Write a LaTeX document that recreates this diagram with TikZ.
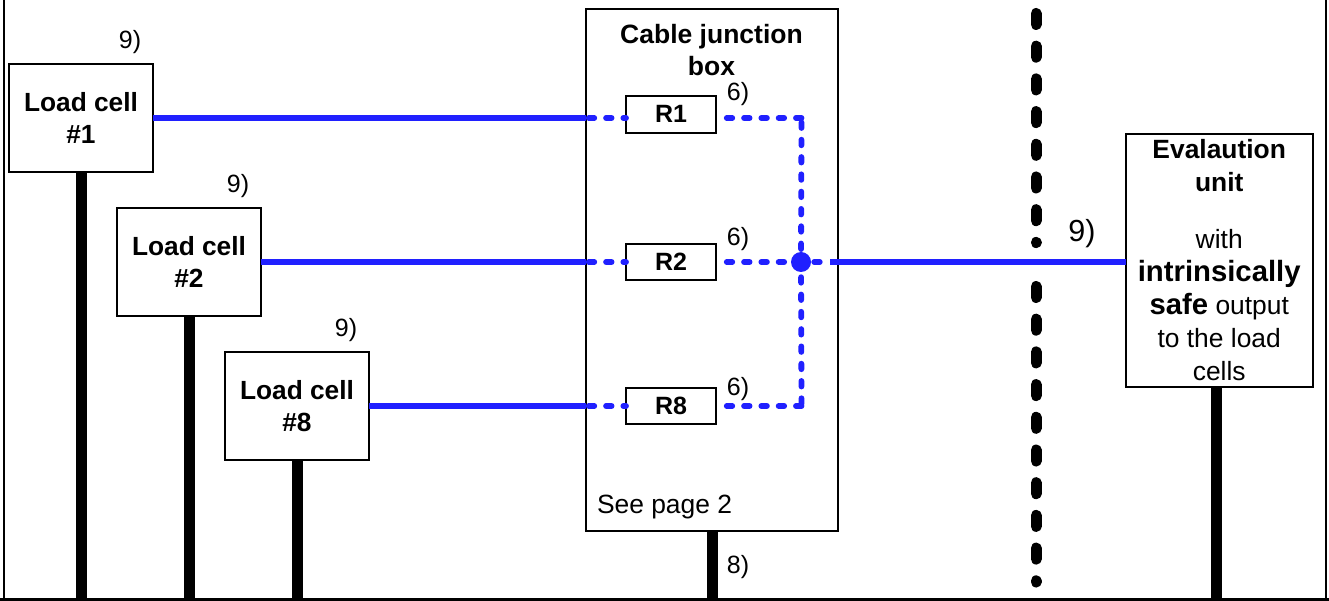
\documentclass[tikz,border=0pt]{standalone}
\usepackage{fontspec}
\setmainfont{Liberation Sans}
\definecolor{cable}{HTML}{2020FF}
\tikzset{
  boxbase/.style={draw=black,line width=2pt,fill=white,inner sep=0pt,outer sep=0pt,align=center},
  cellbox/.style={boxbase,minimum width=144pt,minimum height=108pt,font=\fontsize{26.3}{32}\selectfont\bfseries},
  resbox/.style={boxbase,minimum width=90pt,minimum height=36.5pt,font=\fontsize{25}{32}\selectfont\bfseries},
  note/.style={inner sep=0pt,outer sep=0pt,font=\fontsize{25}{28}\selectfont},
  solidcable/.style={draw=cable,line width=5.6pt},
  dashcable/.style={draw=cable,line width=5.8pt,line cap=round,dash pattern=on 5.5pt off 11.8pt},
  earth/.style={draw=black,line width=11pt},
  barrier/.style={draw=black,line width=11pt,line cap=round,dash pattern=on 11pt off 21.7pt},
}
\begin{document}
\begin{tikzpicture}[x=1pt,y=-1pt]
\useasboundingbox (0,0) rectangle (1329,601);
\fill[white] (0,0) rectangle (1329,601);

\coordinate (fl) at (4,0);
\coordinate (fr) at (1326,0);
\coordinate (bot) at (0,599.5);
\coordinate (bart) at (1036,13.5);
\coordinate (barb) at (1036,582);
\coordinate (bar1) at (1036,242.6);
\coordinate (bar2) at (1036,286.5);

\node[cellbox] (c1) at (81,118) {Load cell\\\#1};
\node[cellbox] (c2) at (189,262) {Load cell\\\#2};
\node[cellbox] (c8) at (297,406) {Load cell\\\#8};
\node[boxbase,minimum width=252.5pt,minimum height=521.5pt] (jb) at (711.75,270) {};
\node[resbox] (r1) at (671,114.3) {R1};
\node[resbox] (r2) at (671,262) {R2};
\node[resbox] (r8) at (671,406) {R8};
\node[boxbase,minimum width=187pt,minimum height=252.5pt,font=\fontsize{26.4}{33}\selectfont] (ev) at (1219.2,260.3)
  {\textbf{Evalaution}\\\textbf{unit}\\[23.5pt]with\\{\fontsize{29.3}{33}\selectfont\textbf{intrinsically}}\\{\fontsize{29.3}{33}\selectfont\textbf{safe}} output\\to the load\\cells};

\node[font=\fontsize{26.5}{32}\selectfont\bfseries,align=center,inner sep=0pt] (jbt) at (711.5,50.5) {Cable junction\\box};
\node[note,anchor=west,font=\fontsize{26.4}{30}\selectfont] (see) at (597,507.5) {See page 2};

\node[note] (n1) at (130,42.5) {9)};
\node[note] (n2) at (238,186.5) {9)};
\node[note] (n8) at (346,330.5) {9)};
\node[note] (s1) at (738,94.5) {6)};
\node[note] (s2) at (738,239.5) {6)};
\node[note] (s8) at (738,389.5) {6)};
\node[note] (e8) at (738,567) {8)};
\node[note,font=\fontsize{30.5}{34}\selectfont] (n9) at (1082,234) {9)};

% frame
\draw[black,line width=2pt] (fl) -- (fl |- bot);
\draw[black,line width=2pt] (fr) -- (fr |- bot);
\draw[black,line width=3pt] (0,599.5) -- (1329,599.5);

% earth
\draw[earth] (c1.south) -- (c1.south |- bot);
\draw[earth] (c2.south) -- (c2.south |- bot);
\draw[earth] (c8.south) -- (c8.south |- bot);
\draw[earth] (712,530) -- (712,599.5);
\draw[earth] (ev.south -| 1216,0) -- (1216,599.5);

% junction
\coordinate (j) at (801,262);
\coordinate (jout) at (830,262);
\coordinate (cor1) at (801.5,118);
\coordinate (cor8) at (801.5,406);

% cables
\draw[solidcable] (c1.east) -- (c1.east -| jb.west);
\draw[solidcable] (c2.east) -- (c2.east -| jb.west);
\draw[solidcable] (c8.east) -- (c8.east -| jb.west);
\draw[solidcable] (jout) -- (ev.west |- jout);

\draw[dashcable,dash phase=14.05pt] (c1.east -| jb.west) -- (c1.east -| r1.west);
\draw[dashcable,dash phase=14.05pt] (c2.east -| jb.west) -- (r2.west);
\draw[dashcable,dash phase=14.05pt] (c8.east -| jb.west) -- (r8.west);
\draw[dashcable,dash phase=6.55pt] (c1.east -| r1.east) -- (cor1);
\draw[dashcable,dash phase=6.55pt] (r8.east) -- (cor8);
\draw[dashcable,dash phase=6.55pt] (r2.east) -- (j);
\draw[dashcable,dash phase=12.85pt] (cor1) -- (j);
\draw[dashcable,dash phase=15.1pt] (cor8) -- (j);
\draw[dashcable,dash phase=4.05pt] (j) -- (jout);
\fill[cable] (j) circle (10pt);

% barrier
\draw[barrier] (bart) -- (bar1);
\draw[barrier] (bar2) -- (barb);
\end{tikzpicture}
\end{document}
